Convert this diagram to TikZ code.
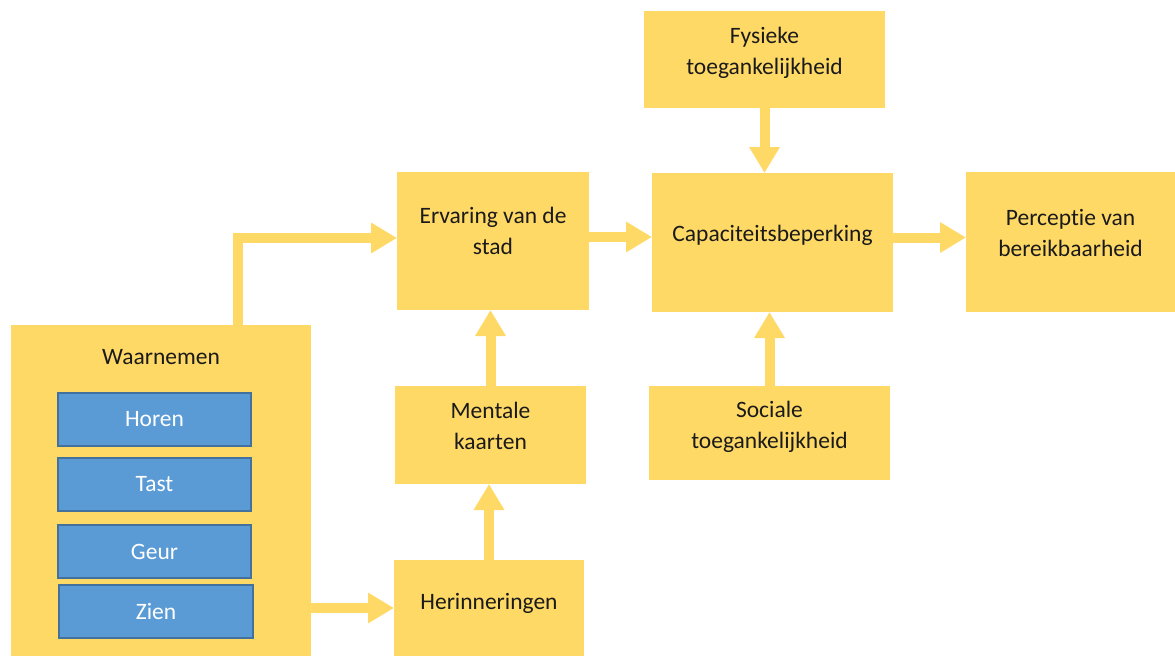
\documentclass[tikz,border=0pt]{standalone}
\usepackage{fontspec}
\setmainfont{Carlito}[Ligatures=NoCommon]
\usetikzlibrary{arrows.meta}
\definecolor{ygold}{HTML}{FFD966}
\definecolor{bfill}{HTML}{5B9BD5}
\definecolor{bline}{HTML}{41719C}
\definecolor{txt}{HTML}{1A1A1A}
\begin{document}
\begin{tikzpicture}[x=1pt,y=-1pt,
  font=\fontsize{23.5}{31}\selectfont,
  ybox/.style={fill=ygold,draw=none,inner sep=0pt,outer sep=0pt,rectangle},
  bbox/.style={fill=bfill,draw=bline,line width=1.5pt,inner sep=0pt,outer sep=0pt,
    minimum width=193pt,minimum height=53pt,text=white},
  txtlab/.style={align=center,text=txt,anchor=center},
  arr/.style={draw=ygold,line width=10pt,-{Triangle[length=26pt,width=29pt]}}]
\useasboundingbox[fill=white] (0,0) rectangle (1175,656);
% yellow boxes
\node[ybox,minimum width=241pt,minimum height=97pt,
  label={[txtlab,yshift=7pt]center:Fysieke\\toegankelijkheid}] (fys) at (764.5,59.5) {};
\node[ybox,minimum width=241pt,minimum height=139pt,
  label={[txtlab,yshift=7.5pt]center:Capaciteitsbeperking}] (cap) at (772.5,242.5) {};
\node[ybox,minimum width=241pt,minimum height=94pt,
  label={[txtlab,yshift=6pt]center:Sociale\\toegankelijkheid}] (soc) at (769.5,433) {};
\node[ybox,minimum width=209pt,minimum height=140pt,
  label={[txtlab,yshift=9.5pt]center:Perceptie van\\bereikbaarheid}] (per) at (1070.5,242) {};
\node[ybox,minimum width=192pt,minimum height=138pt,
  label={[txtlab,yshift=10pt]center:Ervaring van de\\stad}] (erv) at (493,241) {};
\node[ybox,minimum width=191pt,minimum height=98pt,
  label={[txtlab,yshift=9pt]center:Mentale\\kaarten}] (men) at (490.5,435) {};
\node[ybox,minimum width=190pt,minimum height=96pt,
  label={[txtlab,yshift=5pt]center:Herinneringen}] (her) at (489,608) {};
\node[ybox,minimum width=300pt,minimum height=331pt,
  label={[txtlab,yshift=-32pt]north:Waarnemen}] (wn) at (161,490.5) {};
% blue boxes
\node[bbox] (horen) at (154.5,419.5) {Horen};
\node[bbox] (tast) at (154.5,484.5) {Tast};
\node[bbox] (geur) at (154.5,551.5) {Geur};
\node[bbox,minimum width=194pt] (zien) at (156,611.5) {Zien};
% arrows
\draw[arr] ([xshift=77pt]wn.north) |- ([yshift=3pt]erv.west);
\draw[arr] (wn.east |- her.west) -- (her.west);
\draw[arr] (her.north) -- (her.north |- men.south);
\draw[arr] (men.north) -- (men.north |- erv.south);
\draw[arr] ([yshift=4pt]erv.east) -- ([yshift=4pt]erv.east -| cap.west);
\draw[arr] (fys.south) -- (fys.south |- cap.north);
\draw[arr] (soc.north) -- (soc.north |- cap.south);
\draw[arr] ([yshift=5pt]cap.east) -- ([yshift=5pt]cap.east -| per.west);
\end{tikzpicture}
\end{document}
